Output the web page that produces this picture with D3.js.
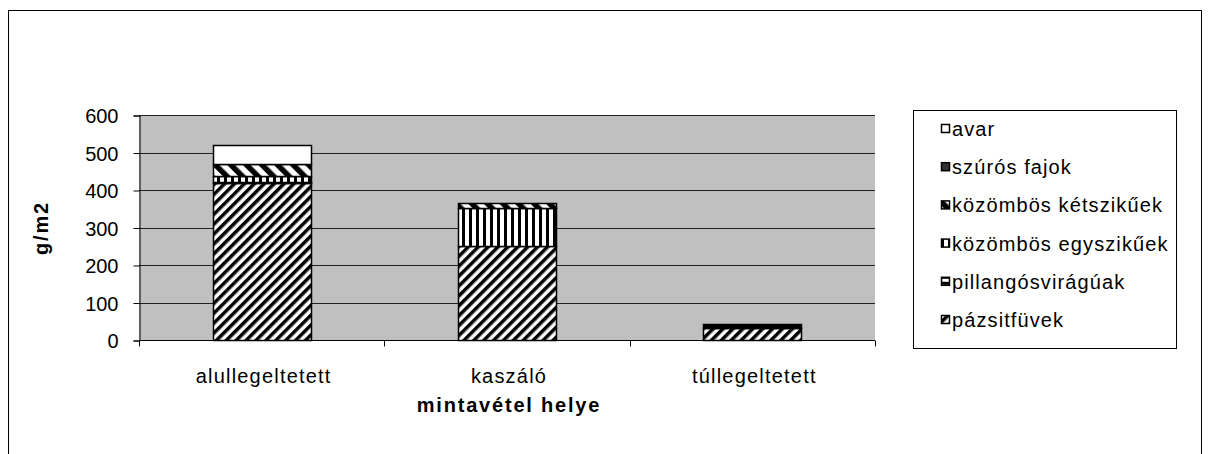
<!DOCTYPE html>
<html>
<head>
<meta charset="utf-8">
<script src="https://cdn.jsdelivr.net/npm/d3@7"></script>
<style>
  body { margin: 0; background: #fff; }
  text { font-family: "Liberation Sans", Arial, sans-serif; }
</style>
</head>
<body>
<div id="chart"></div>
<script>
// data (g/m2)
const categories = ["alullegeltetett", "kaszáló", "túllegeltetett"];
const seriesNames = ["pázsitfüvek", "pillangósvirágúak", "közömbös egyszikűek", "közömbös kétszikűek", "szúrós fajok", "avar"];
const pazsitfuvek = [420, 250, 32];
const pillangos = [2, 0, 0];
const egyszikuek = [15, 102, 0];
const ketszikuek = [32, 14, 0];
const szuros = [0, 0, 12];
const avar = [51, 0, 0];
const yTicks = [0, 100, 200, 300, 400, 500, 600];

const values = [pazsitfuvek, pillangos, egyszikuek, ketszikuek, szuros, avar];
const rows = categories.map((c, i) => {
  const r = { cat: c };
  seriesNames.forEach((s, j) => r[s] = values[j][i]);
  return r;
});

const width = 1211, height = 454;
const plot = { left: 139, right: 875, top: 115, bottom: 340 };

const svg = d3.select("#chart").append("svg")
  .attr("width", width).attr("height", height);

// patterns
const defs = svg.append("defs");
function stripes(id, size, angle, bw) {
  const p = defs.append("pattern").attr("id", id)
    .attr("patternUnits", "userSpaceOnUse")
    .attr("width", size).attr("height", size)
    .attr("patternTransform", "rotate(" + angle + ")");
  p.append("rect").attr("width", size).attr("height", size).attr("fill", "#fff");
  p.append("rect").attr("width", bw).attr("height", size).attr("fill", "#000");
}
stripes("pz", 7, 45, 3.5);
stripes("pv", 6, 90, 3);
stripes("eg", 7, 0, 3);
stripes("kk", 11, -45, 5.5);

const fills = {
  "pázsitfüvek": "url(#pz)",
  "pillangósvirágúak": "url(#pv)",
  "közömbös egyszikűek": "url(#eg)",
  "közömbös kétszikűek": "url(#kk)",
  "szúrós fajok": "#000",
  "avar": "#fff"
};

// outer frame
svg.append("rect").attr("x", 8.5).attr("y", 10.5).attr("width", 1193).attr("height", 470)
  .attr("fill", "none").attr("stroke", "#000");

const x = d3.scaleBand().domain(categories).range([plot.left, plot.right]).paddingInner(0.6).paddingOuter(0.3);
const y = d3.scaleLinear().domain([0, 600]).range([plot.bottom, plot.top]);

svg.append("rect").attr("x", plot.left).attr("y", plot.top)
  .attr("width", plot.right - plot.left).attr("height", plot.bottom - plot.top)
  .attr("fill", "#c0c0c0");

svg.append("g").selectAll("line").data(yTicks.slice(1)).join("line")
  .attr("x1", plot.left).attr("x2", plot.right)
  .attr("y1", d => Math.round(y(d)) + 0.5).attr("y2", d => Math.round(y(d)) + 0.5)
  .attr("stroke", "#222");

const stack = d3.stack().keys(seriesNames)(rows);

svg.append("g").selectAll("g").data(stack).join("g")
  .attr("fill", d => fills[d.key])
  .selectAll("rect").data(d => d.filter(p => p[1] - p[0] > 0)).join("rect")
  .attr("x", d => Math.round(x(d.data.cat)) + 0.5)
  .attr("y", d => Math.round(y(d[1])) + 0.5)
  .attr("width", Math.round(x.bandwidth()))
  .attr("height", d => Math.round(y(d[0])) - Math.round(y(d[1])))
  .attr("stroke", "#000").attr("stroke-width", 1.5);

// axes
const yAxis = svg.append("g").attr("transform", "translate(" + (plot.left + 0.5) + ",0.5)")
  .call(d3.axisLeft(y).tickValues(yTicks).tickSize(6).tickPadding(15));
yAxis.select(".domain").attr("stroke", "#000");
yAxis.selectAll("text").attr("font-size", 20).attr("fill", "#000").attr("dy", "0.36em")
  .style("font-family", "Liberation Sans, Arial, sans-serif");

const bands = d3.scaleBand().domain(categories).range([plot.left, plot.right]);
const xAxis = svg.append("g").attr("transform", "translate(0," + (plot.bottom + 0.5) + ")");
xAxis.append("line").attr("x1", plot.left).attr("x2", plot.right).attr("stroke", "#000");
xAxis.selectAll("line.t").data(categories.concat(["end"])).join("line").attr("class", "t")
  .attr("x1", (d, i) => Math.round(plot.left + i * bands.step()) + 0.5)
  .attr("x2", (d, i) => Math.round(plot.left + i * bands.step()) + 0.5)
  .attr("y1", 0).attr("y2", 6).attr("stroke", "#000");
xAxis.selectAll("text").data(categories).join("text")
  .attr("x", d => bands(d) + bands.bandwidth() / 2 + 2).attr("y", 42)
  .attr("text-anchor", "middle").attr("font-size", 20).attr("letter-spacing", 1.2).text(d => d);

svg.append("text").attr("x", 509).attr("y", 412).attr("text-anchor", "middle")
  .attr("font-size", 20).attr("letter-spacing", 1.8).attr("font-weight", "bold").text("mintavétel helye");
svg.append("text").attr("transform", "translate(48,228) rotate(-90)").attr("text-anchor", "middle")
  .attr("font-size", 20).attr("letter-spacing", 1.8).attr("font-weight", "bold").text("g/m2");

// legend (top = avar)
const lg = svg.append("g");
lg.append("rect").attr("x", 913.5).attr("y", 110.5).attr("width", 263).attr("height", 238)
  .attr("fill", "#fff").attr("stroke", "#000");
const legendOrder = seriesNames.slice().reverse();
const ly = d3.scalePoint().domain(legendOrder).range([129, 320]);
const li = lg.selectAll("g").data(legendOrder).join("g")
  .attr("transform", d => "translate(941," + ly(d) + ")");
li.append("rect").attr("x", 0.5).attr("y", -4.5).attr("width", 8).attr("height", 8)
  .attr("fill", d => d === "szúrós fajok" ? "#333" : fills[d]).attr("stroke", "#000").attr("stroke-width", 1.5);
li.append("text").attr("x", 11).attr("y", 7).attr("font-size", 20).attr("letter-spacing", 1.1).text(d => d);
</script>
</body>
</html>
